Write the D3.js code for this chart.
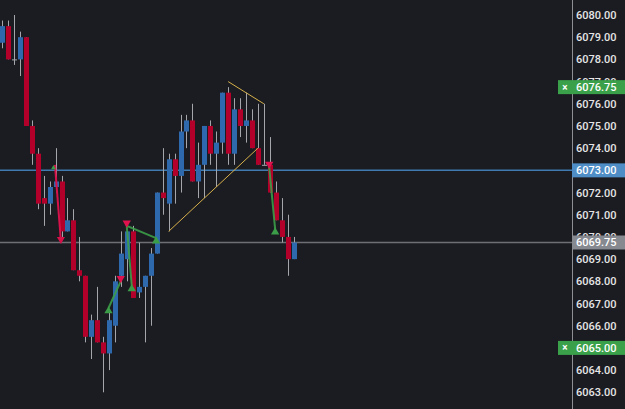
<!DOCTYPE html>
<html>
<head>
<meta charset="utf-8">
<script src="https://cdn.jsdelivr.net/npm/d3@7"></script>
<style>
    body { margin: 0; background: #1b1c22; }
    svg { display: block; }
    text { font-family: Roboto, "Noto Sans", sans-serif; }
</style>
</head>
<body>
<div id="chart"></div>
<script>
// OHLC values for the 50 visible bars
const opens = [6078.75, 6079.5, 6078.0, 6078.0, 6079.0, 6075.0, 6073.75, 6071.75, 6071.5, 6072.25,
    6072.5, 6070.25, 6070.75, 6068.5, 6068.25, 6065.5, 6066.25, 6065.25, 6064.75, 6066.0,
    6068.25, 6069.0, 6070.25, 6067.5, 6067.75, 6068.25, 6069.25, 6072.0, 6071.5, 6073.5,
    6072.75, 6074.75, 6075.25, 6072.5, 6073.25, 6075.0, 6073.75, 6074.25, 6076.5, 6073.75,
    6075.75, 6075.0, 6075.25, 6074.0, 6073.25, 6073.25, 6072.0, 6070.75, 6070.0, 6069.0];
const highs = [6079.75, 6079.75, 6080.0, 6079.25, 6079.0, 6075.25, 6074.0, 6072.75, 6072.5, 6074.0,
    6072.75, 6071.75, 6071.25, 6070.0, 6068.25, 6066.5, 6067.75, 6065.5, 6066.75, 6068.25,
    6070.25, 6070.25, 6070.5, 6069.75, 6068.25, 6069.5, 6072.0, 6074.0, 6073.75, 6073.75,
    6075.5, 6075.5, 6076.0, 6074.25, 6075.0, 6075.25, 6074.75, 6076.5, 6076.75, 6076.25,
    6076.25, 6076.5, 6075.75, 6076.0, 6076.0, 6074.5, 6072.5, 6071.75, 6071.0, 6070.0];
const lows = [6078.5, 6078.0, 6077.75, 6077.25, 6075.0, 6073.25, 6071.25, 6070.5, 6071.0, 6072.0,
    6070.0, 6070.25, 6068.5, 6068.0, 6065.25, 6064.5, 6065.25, 6063.0, 6064.0, 6065.25,
    6067.75, 6068.0, 6067.25, 6067.25, 6065.25, 6066.0, 6069.25, 6071.0, 6070.25, 6071.5,
    6072.0, 6074.0, 6072.5, 6071.75, 6071.75, 6073.25, 6072.25, 6073.75, 6073.25, 6073.25,
    6074.5, 6074.25, 6074.0, 6073.25, 6073.25, 6072.0, 6070.75, 6069.75, 6068.25, 6069.0];
const closes = [6079.5, 6078.0, 6078.0, 6079.0, 6075.0, 6073.75, 6071.5, 6071.5, 6072.25, 6072.5,
    6070.25, 6070.75, 6068.5, 6068.25, 6065.5, 6066.25, 6065.25, 6064.75, 6066.25, 6068.0,
    6069.25, 6070.25, 6067.25, 6067.75, 6068.25, 6069.25, 6072.0, 6071.75, 6073.5, 6072.75,
    6074.75, 6075.25, 6072.5, 6073.25, 6075.0, 6073.75, 6074.25, 6076.5, 6073.75, 6075.75,
    6075.0, 6075.25, 6074.0, 6073.25, 6073.25, 6072.0, 6070.75, 6070.0, 6069.0, 6069.75];

const yTicks = d3.range(6063, 6081, 1);

// price levels shown on the axis
const linePrice = 6073.0;
const lastPrice = 6069.75;
const orderPrices = [6076.75, 6065.0];

// drawings, as [bar index, price]
const wedgeUpper = [[38, 6077.0], [44, 6076.0]];
const wedgeLower = [[28, 6070.25], [43, 6074.0]];
const arrowPts = [[8.9, 6073.25], [9.9, 6069.8]];
const swingLegs = [
    [[17.9, 6066.8], [19.95, 6068.0]],
    [[21.8, 6067.8], [20.96, 6070.5], [25.9, 6069.95]],
    [[44.9, 6073.15], [45.9, 6070.35]]
];
const swingHighs = [[19.95, 6068.0], [20.96, 6070.5], [44.9, 6073.15]];
const swingLows = [[17.9, 6066.8], [21.8, 6067.8], [25.9, 6069.95], [45.9, 6070.35]];

const bars = opens.map((o, i) => ({ i: i, o: o, h: highs[i], l: lows[i], c: closes[i] }));

const width = 625;
const height = 409;
const axisX = 572;

const svg = d3.select('#chart')
    .append('svg')
    .attr('width', width)
    .attr('height', height);

svg.append('rect')
    .attr('width', width)
    .attr('height', height)
    .attr('fill', '#1b1c22');

const xScale = d3.scaleLinear()
    .domain([0, bars.length - 1])
    .range([2, 293.6]);

const yScale = d3.scaleLinear()
    .domain([6063, 6080])
    .range([392.3, 15]);

const line = d3.line()
    .x(d => xScale(d[0]))
    .y(d => yScale(d[1]));

// horizontal price lines
svg.append('line')
    .attr('x1', 0).attr('x2', axisX)
    .attr('y1', yScale(linePrice)).attr('y2', yScale(linePrice))
    .attr('stroke', '#3f7bb0')
    .attr('stroke-width', 1.5);

svg.append('line')
    .attr('x1', 0).attr('x2', axisX)
    .attr('y1', yScale(lastPrice)).attr('y2', yScale(lastPrice))
    .attr('stroke', '#6d6f74')
    .attr('stroke-width', 1.5);

// candles
const candle = svg.append('g')
    .selectAll('g')
    .data(bars)
    .enter()
    .append('g');

candle.append('line')
    .attr('x1', d => Math.round(xScale(d.i)) + 0.5)
    .attr('x2', d => Math.round(xScale(d.i)) + 0.5)
    .attr('y1', d => yScale(d.h))
    .attr('y2', d => yScale(d.l))
    .attr('stroke', '#a4a6ab')
    .attr('stroke-width', 1);

candle.append('rect')
    .attr('x', d => Math.round(xScale(d.i)) - 2)
    .attr('width', 5)
    .attr('y', d => yScale(Math.max(d.o, d.c)))
    .attr('height', d => Math.max(1, yScale(Math.min(d.o, d.c)) - yScale(Math.max(d.o, d.c))))
    .attr('fill', d => d.c > d.o ? '#2f69ad' : (d.c < d.o ? '#b3002b' : '#a4a6ab'));

// wedge drawing
[wedgeUpper, wedgeLower].forEach(pts => {
    svg.append('path')
        .attr('d', line(pts))
        .attr('fill', 'none')
        .attr('stroke', '#d6b04a')
        .attr('stroke-width', 1);
});

// red arrow
svg.append('path')
    .attr('d', line(arrowPts))
    .attr('fill', 'none')
    .attr('stroke', '#d6114a')
    .attr('stroke-width', 2);

const tip = arrowPts[1];
svg.append('path')
    .attr('d', d3.symbol().type(d3.symbolTriangle).size(28)())
    .attr('transform', 'translate(' + xScale(tip[0]) + ',' + (yScale(tip[1]) - 2) + ') rotate(180)')
    .attr('fill', '#d6114a');

svg.append('path')
    .attr('d', d3.symbol().type(d3.symbolTriangle).size(10)())
    .attr('transform', 'translate(' + (xScale(arrowPts[0][0]) - 1.5) + ',' + (yScale(arrowPts[0][1]) + 3) + ')')
    .attr('fill', '#3c9d48');

// swing legs
swingLegs.forEach(pts => {
    svg.append('path')
        .attr('d', line(pts))
        .attr('fill', 'none')
        .attr('stroke', '#3c9d48')
        .attr('stroke-width', 2)
        .attr('stroke-opacity', 0.9);
});

svg.selectAll('.swing-high')
    .data(swingHighs)
    .enter()
    .append('path')
    .attr('class', 'swing-high')
    .attr('d', d3.symbol().type(d3.symbolTriangle).size(30)())
    .attr('transform', d => 'translate(' + xScale(d[0]) + ',' + (yScale(d[1]) - 3) + ') rotate(180)')
    .attr('fill', '#e0124e');

svg.selectAll('.swing-low')
    .data(swingLows)
    .enter()
    .append('path')
    .attr('class', 'swing-low')
    .attr('d', d3.symbol().type(d3.symbolTriangle).size(30)())
    .attr('transform', d => 'translate(' + xScale(d[0]) + ',' + (yScale(d[1]) + 3) + ')')
    .attr('fill', '#3c9d48');

// price axis
const yAxis = d3.axisRight(yScale)
    .tickValues(yTicks)
    .tickFormat(d3.format('.2f'))
    .tickSize(0)
    .tickPadding(4);

const axisG = svg.append('g')
    .attr('transform', 'translate(' + axisX + ',0)')
    .call(yAxis);

axisG.select('.domain').remove();
axisG.selectAll('text')
    .attr('fill', '#e6e6e6')
    .attr('font-size', 11)
    .attr('font-weight', 500)
    .attr('font-family', 'Roboto, sans-serif');

svg.append('line')
    .attr('x1', axisX + 0.5).attr('x2', axisX + 0.5)
    .attr('y1', 0).attr('y2', height)
    .attr('stroke', '#8d8f94')
    .attr('stroke-width', 1);

// axis labels for levels
function priceTag(price, fill, x0) {
    const y = yScale(price);
    svg.append('rect')
        .attr('x', x0)
        .attr('y', y - 7)
        .attr('width', width - x0)
        .attr('height', 14)
        .attr('fill', fill);
    svg.append('text')
        .attr('x', axisX + 4)
        .attr('y', y)
        .attr('dy', '0.35em')
        .attr('fill', '#ffffff')
        .attr('font-size', 11)
        .attr('font-weight', 500)
        .text(d3.format('.2f')(price));
}

priceTag(linePrice, '#4f8dc6', axisX);
priceTag(lastPrice, '#86898f', axisX);
orderPrices.forEach(p => {
    priceTag(p, '#3ba04a', 558);
    svg.append('text')
        .attr('x', 565)
        .attr('y', yScale(p))
        .attr('dy', '0.35em')
        .attr('text-anchor', 'middle')
        .attr('fill', '#ffffff')
        .attr('font-size', 10)
        .attr('font-weight', 700)
        .text('×');
});
</script>
</body>
</html>
